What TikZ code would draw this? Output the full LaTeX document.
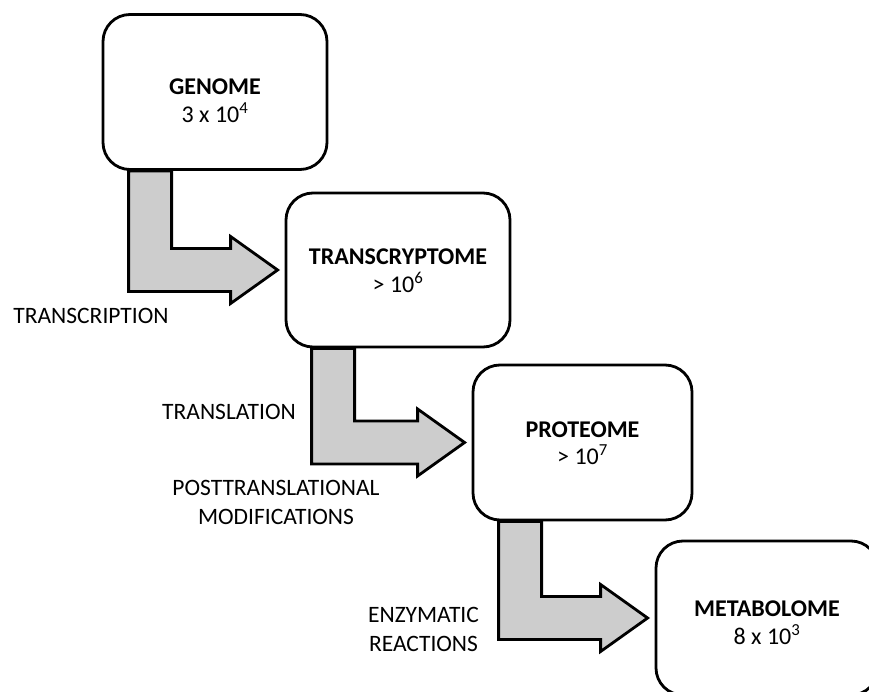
\documentclass[tikz,border=0pt]{standalone}
\usepackage{fontspec}
\setmainfont{Carlito}
\usetikzlibrary{calc}
\definecolor{arrowgray}{RGB}{205,205,205}
\tikzset{
  stage/.style={draw=black, fill=white, line width=2.8pt, rounded corners=27pt,
    minimum width=224pt, minimum height=155pt, inner sep=0pt},
  stagetext/.style={align=center, font=\fontsize{24}{27.5}\selectfont, inner sep=0pt},
  steplabel/.style={align=center, font=\fontsize{23.5}{29}\selectfont, inner sep=0pt},
  blockarrow/.style={draw=black, fill=arrowgray, line width=2.8pt, line join=miter},
}
\newcommand\stageArrow[2]{%
  \coordinate (tip) at ([xshift=-7pt]#2.west);
  \coordinate (bl) at ([xshift=27pt]#1.south west);
  \coordinate (br) at ([xshift=70pt]#1.south west);
  \coordinate (sb) at ([yshift=-21.5pt]tip);
  \coordinate (st) at ([yshift=21.5pt]tip);
  \coordinate (ht) at ([xshift=-47pt,yshift=33.5pt]tip);
  \coordinate (hb) at ([xshift=-47pt,yshift=-33.5pt]tip);
  \filldraw[blockarrow] (bl) -- (bl |- sb) -- (hb |- sb) -- (hb) -- (tip)
    -- (ht) -- (ht |- st) -- (br |- st) -- (br) -- cycle;
}
\begin{document}
\begin{tikzpicture}[x=1pt,y=-1pt]
\useasboundingbox (0,0) rectangle (869,692);
\clip (0,0) rectangle (869,692);
\fill[white] (0,0) rectangle (869,692);

% boxes
\node[stage] (genome) at (215,92) {};
\node[stage, minimum height=154pt] (transcr) at (398,270) {};
\node[stage, minimum width=219pt] (proteome) at (582.5,442.5) {};
\node[stage, minimum width=222pt, minimum height=154pt] (metab) at (767,618) {};

% arrows
\stageArrow{genome}{transcr}
\stageArrow{transcr}{proteome}
\stageArrow{proteome}{metab}

% box texts
\node[stagetext] (genomeT) at (215,100.5) {\textbf{GENOME}\\3 x 10\textsuperscript{4}};
\node[stagetext] (transcrT) at (398,270.5) {\textbf{TRANSCRYPTOME}\\> 10\textsuperscript{6}};
\node[stagetext] (proteomeT) at (582.5,443) {\textbf{PROTEOME}\\> 10\textsuperscript{7}};
\node[stagetext] (metabT) at (767,622.5) {\textbf{METABOLOME}\\8 x 10\textsuperscript{3}};

% step labels
\node[steplabel] (lab1) at (91,315.5) {TRANSCRIPTION};
\node[steplabel] (lab2) at (229,412) {TRANSLATION};
\node[steplabel] (lab3) at (276,502) {POSTTRANSLATIONAL\\MODIFICATIONS};
\node[steplabel] (lab4) at (423.5,629) {ENZYMATIC\\REACTIONS};
\end{tikzpicture}
\end{document}
